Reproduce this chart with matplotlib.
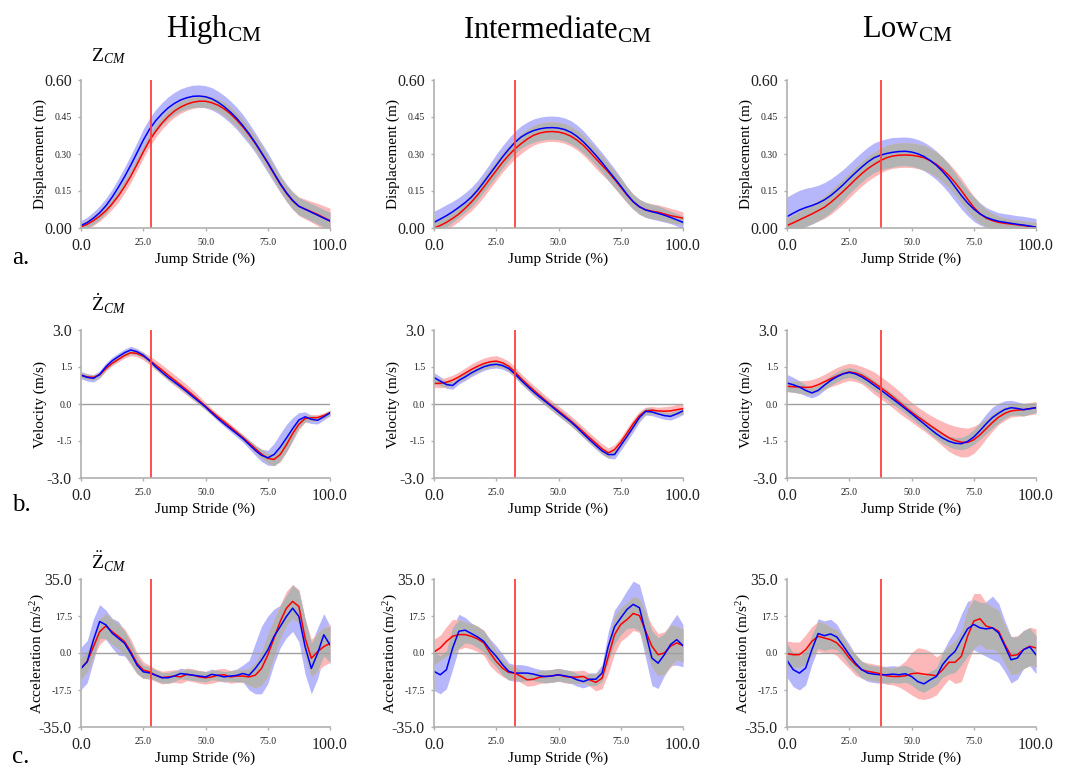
import numpy as np
import matplotlib
matplotlib.use("Agg")
import matplotlib.pyplot as plt

plt.rcParams['font.family'] = ['Liberation Serif', 'DejaVu Serif']
plt.rcParams['mathtext.fontset'] = 'custom'
plt.rcParams['mathtext.rm'] = 'Liberation Serif'
plt.rcParams['mathtext.it'] = 'Liberation Serif:italic'

# x grid (% of jump stride), every 2.5 %
stride = np.arange(0, 100.1, 2.5)

groups = ["High", "Intermediate", "Low"]
event_pct = [28, 32.4, 37.6]

# ---- displacement (m) ----
disp_high_blue = [0.010, 0.022, 0.040, 0.062, 0.090, 0.125, 0.165, 0.208, 0.255, 0.305, 0.356,
                  0.400, 0.435, 0.463, 0.487, 0.505, 0.519, 0.528, 0.534, 0.535, 0.532,
                  0.524, 0.510, 0.492, 0.470, 0.445, 0.415, 0.382, 0.345, 0.305, 0.265,
                  0.222, 0.180, 0.143, 0.112, 0.088, 0.076, 0.064, 0.052, 0.040, 0.028]
disp_high_blue_sd = [0.02, 0.022, 0.025, 0.028, 0.03, 0.032, 0.035, 0.038, 0.04, 0.042, 0.045,
                     0.045, 0.045, 0.045, 0.045, 0.045, 0.045, 0.045, 0.045, 0.045, 0.045,
                     0.045, 0.045, 0.045, 0.045, 0.045, 0.045, 0.042, 0.04, 0.04, 0.04,
                     0.038, 0.035, 0.035, 0.035, 0.035, 0.035, 0.035, 0.035, 0.035, 0.035]
disp_high_red = [0.005, 0.015, 0.030, 0.048, 0.070, 0.098, 0.130, 0.168, 0.210, 0.258, 0.308,
                 0.355, 0.392, 0.425, 0.452, 0.474, 0.490, 0.502, 0.510, 0.514, 0.514,
                 0.508, 0.498, 0.483, 0.463, 0.438, 0.410, 0.378, 0.343, 0.304, 0.263,
                 0.220, 0.178, 0.141, 0.110, 0.088, 0.077, 0.066, 0.055, 0.042, 0.030]
disp_high_red_sd = [0.015, 0.018, 0.02, 0.02, 0.02, 0.022, 0.025, 0.025, 0.025, 0.025, 0.025,
                    0.025, 0.025, 0.025, 0.025, 0.025, 0.025, 0.025, 0.025, 0.025, 0.025,
                    0.025, 0.025, 0.028, 0.03, 0.03, 0.03, 0.03, 0.03, 0.03, 0.03,
                    0.03, 0.03, 0.032, 0.035, 0.038, 0.04, 0.042, 0.045, 0.048, 0.05]

disp_mid_blue = [0.023, 0.036, 0.050, 0.066, 0.084, 0.103, 0.125, 0.153, 0.186, 0.220, 0.254,
                 0.288, 0.319, 0.347, 0.369, 0.384, 0.395, 0.402, 0.406, 0.407, 0.405,
                 0.399, 0.388, 0.371, 0.349, 0.323, 0.295, 0.265, 0.233, 0.202, 0.170,
                 0.136, 0.107, 0.086, 0.073, 0.066, 0.060, 0.052, 0.043, 0.033, 0.023]
disp_mid_blue_sd = [0.045, 0.045, 0.045, 0.042, 0.04, 0.04, 0.04, 0.04, 0.04, 0.042, 0.045,
                    0.045, 0.045, 0.045, 0.045, 0.046, 0.047, 0.047, 0.047, 0.047, 0.047,
                    0.047, 0.047, 0.046, 0.045, 0.042, 0.04, 0.04, 0.04, 0.038, 0.035,
                    0.032, 0.03, 0.03, 0.03, 0.03, 0.03, 0.028, 0.025, 0.025, 0.025]
disp_mid_red = [0.0, 0.010, 0.023, 0.039, 0.057, 0.080, 0.105, 0.134, 0.166, 0.200, 0.233,
                0.266, 0.295, 0.321, 0.342, 0.361, 0.376, 0.385, 0.390, 0.391, 0.389,
                0.383, 0.372, 0.356, 0.335, 0.309, 0.281, 0.254, 0.227, 0.197, 0.166,
                0.134, 0.106, 0.086, 0.074, 0.068, 0.064, 0.057, 0.050, 0.045, 0.040]
disp_mid_red_sd = [0.03, 0.03, 0.03, 0.03, 0.03, 0.03, 0.035, 0.038, 0.04, 0.04, 0.04,
                   0.04, 0.04, 0.04, 0.04, 0.04, 0.04, 0.04, 0.04, 0.04, 0.04,
                   0.04, 0.04, 0.04, 0.04, 0.04, 0.04, 0.038, 0.035, 0.035, 0.035,
                   0.032, 0.03, 0.03, 0.03, 0.03, 0.03, 0.03, 0.03, 0.028, 0.025]

disp_low_blue = [0.046, 0.060, 0.073, 0.083, 0.091, 0.101, 0.114, 0.131, 0.152, 0.175, 0.200,
                 0.224, 0.247, 0.268, 0.285, 0.295, 0.302, 0.307, 0.310, 0.311, 0.308,
                 0.301, 0.290, 0.274, 0.254, 0.229, 0.200, 0.166, 0.132, 0.102, 0.077,
                 0.057, 0.043, 0.034, 0.027, 0.023, 0.019, 0.015, 0.012, 0.008, 0.003]
disp_low_blue_sd = [0.08, 0.08, 0.08, 0.078, 0.075, 0.072, 0.07, 0.068, 0.065, 0.062, 0.06,
                    0.06, 0.06, 0.06, 0.06, 0.06, 0.06, 0.06, 0.058, 0.058, 0.058,
                    0.058, 0.058, 0.058, 0.058, 0.058, 0.058, 0.057, 0.055, 0.052, 0.05,
                    0.045, 0.04, 0.038, 0.035, 0.035, 0.035, 0.035, 0.035, 0.035, 0.035]
disp_low_red = [0.010, 0.021, 0.033, 0.045, 0.057, 0.070, 0.084, 0.103, 0.125, 0.148, 0.172,
                0.197, 0.220, 0.241, 0.258, 0.273, 0.285, 0.292, 0.295, 0.296, 0.295,
                0.291, 0.285, 0.273, 0.258, 0.237, 0.213, 0.184, 0.152, 0.117, 0.084,
                0.058, 0.040, 0.030, 0.023, 0.019, 0.016, 0.013, 0.010, 0.006, 0.003]
disp_low_red_sd = [0.03, 0.032, 0.035, 0.038, 0.04, 0.042, 0.045, 0.048, 0.05, 0.05, 0.05,
                   0.05, 0.05, 0.05, 0.05, 0.05, 0.05, 0.05, 0.05, 0.05, 0.05,
                   0.05, 0.05, 0.05, 0.05, 0.05, 0.05, 0.05, 0.05, 0.048, 0.045,
                   0.04, 0.035, 0.03, 0.025, 0.022, 0.02, 0.02, 0.02, 0.02, 0.02]

# ---- velocity (m/s) ----
vel_high_blue = [1.17, 1.08, 1.04, 1.20, 1.51, 1.75, 1.92, 2.08, 2.19, 2.12, 1.98,
                 1.76, 1.51, 1.29, 1.08, 0.89, 0.70, 0.50, 0.29, 0.09, -0.12,
                 -0.36, -0.59, -0.80, -1.00, -1.20, -1.40, -1.64, -1.88, -2.08, -2.18,
                 -2.05, -1.75, -1.38, -1.00, -0.65, -0.52, -0.62, -0.66, -0.52, -0.36]
vel_high_blue_sd = [0.15, 0.15, 0.15, 0.15, 0.15, 0.15, 0.15, 0.15, 0.15, 0.13, 0.12,
                    0.11, 0.1, 0.1, 0.1, 0.1, 0.1, 0.1, 0.1, 0.1, 0.1,
                    0.1, 0.1, 0.11, 0.12, 0.13, 0.15, 0.17, 0.2, 0.25, 0.3,
                    0.45, 0.55, 0.55, 0.45, 0.3, 0.2, 0.17, 0.15, 0.13, 0.12]
vel_high_red = [1.17, 1.10, 1.08, 1.18, 1.44, 1.65, 1.81, 1.97, 2.08, 2.05, 1.94,
                1.78, 1.58, 1.38, 1.17, 0.97, 0.77, 0.57, 0.36, 0.14, -0.09,
                -0.31, -0.52, -0.72, -0.93, -1.14, -1.36, -1.58, -1.81, -2.03, -2.20,
                -2.25, -2.05, -1.65, -1.20, -0.82, -0.59, -0.56, -0.55, -0.47, -0.36]
vel_high_red_sd = [0.1, 0.1, 0.1, 0.1, 0.1, 0.1, 0.1, 0.11, 0.12, 0.13, 0.15,
                   0.18, 0.2, 0.21, 0.22, 0.22, 0.22, 0.21, 0.2, 0.18, 0.15,
                   0.13, 0.12, 0.12, 0.12, 0.12, 0.12, 0.13, 0.15, 0.18, 0.2,
                   0.25, 0.3, 0.3, 0.3, 0.22, 0.15, 0.13, 0.12, 0.11, 0.1]

vel_mid_blue = [1.07, 0.93, 0.79, 0.75, 0.96, 1.10, 1.26, 1.39, 1.51, 1.58, 1.61,
                1.56, 1.44, 1.22, 0.96, 0.72, 0.49, 0.28, 0.08, -0.12, -0.33,
                -0.53, -0.73, -0.96, -1.21, -1.45, -1.68, -1.90, -2.05, -2.05, -1.68,
                -1.32, -0.94, -0.55, -0.30, -0.32, -0.40, -0.47, -0.50, -0.40, -0.28]
vel_mid_blue_sd = [0.2, 0.18, 0.15, 0.15, 0.15, 0.15, 0.15, 0.15, 0.15, 0.15, 0.15,
                   0.15, 0.15, 0.15, 0.15, 0.15, 0.15, 0.15, 0.15, 0.15, 0.15,
                   0.15, 0.15, 0.15, 0.15, 0.15, 0.15, 0.15, 0.15, 0.18, 0.2,
                   0.2, 0.2, 0.18, 0.15, 0.15, 0.15, 0.15, 0.15, 0.15, 0.15]
vel_mid_red = [0.83, 0.84, 0.88, 0.97, 1.10, 1.25, 1.40, 1.53, 1.64, 1.71, 1.74,
               1.67, 1.53, 1.30, 1.03, 0.79, 0.56, 0.34, 0.12, -0.08, -0.28,
               -0.48, -0.69, -0.91, -1.14, -1.37, -1.59, -1.82, -1.98, -1.85, -1.55,
               -1.18, -0.80, -0.48, -0.28, -0.25, -0.28, -0.29, -0.28, -0.23, -0.19]
vel_mid_red_sd = [0.15, 0.18, 0.2, 0.2, 0.2, 0.21, 0.22, 0.22, 0.22, 0.22, 0.22,
                  0.2, 0.2, 0.2, 0.2, 0.2, 0.2, 0.2, 0.2, 0.2, 0.2,
                  0.2, 0.2, 0.2, 0.2, 0.2, 0.2, 0.2, 0.2, 0.2, 0.2,
                  0.2, 0.2, 0.18, 0.15, 0.15, 0.15, 0.18, 0.2, 0.21, 0.22]

vel_low_blue = [0.85, 0.78, 0.69, 0.55, 0.45, 0.55, 0.76, 0.95, 1.10, 1.22, 1.28,
                1.22, 1.10, 0.94, 0.76, 0.58, 0.39, 0.20, 0.01, -0.19, -0.39,
                -0.60, -0.80, -1.01, -1.21, -1.38, -1.51, -1.59, -1.61, -1.52, -1.34,
                -1.08, -0.80, -0.55, -0.37, -0.22, -0.15, -0.18, -0.23, -0.19, -0.15]
vel_low_blue_sd = [0.35, 0.3, 0.25, 0.22, 0.2, 0.2, 0.2, 0.2, 0.2, 0.2, 0.2,
                   0.2, 0.2, 0.2, 0.2, 0.2, 0.2, 0.2, 0.2, 0.2, 0.2,
                   0.2, 0.2, 0.2, 0.2, 0.21, 0.22, 0.23, 0.25, 0.27, 0.3,
                   0.35, 0.4, 0.42, 0.4, 0.35, 0.3, 0.27, 0.25, 0.22, 0.2]
vel_low_red = [0.72, 0.70, 0.69, 0.67, 0.69, 0.78, 0.90, 1.02, 1.13, 1.23, 1.30,
               1.26, 1.17, 1.02, 0.85, 0.67, 0.49, 0.29, 0.08, -0.13, -0.33,
               -0.52, -0.69, -0.87, -1.04, -1.21, -1.37, -1.48, -1.55, -1.56, -1.45,
               -1.25, -1.00, -0.75, -0.53, -0.38, -0.28, -0.25, -0.23, -0.19, -0.15]
vel_low_red_sd = [0.2, 0.22, 0.25, 0.28, 0.3, 0.3, 0.3, 0.32, 0.35, 0.35, 0.35,
                  0.35, 0.35, 0.4, 0.45, 0.45, 0.45, 0.45, 0.45, 0.42, 0.4,
                  0.4, 0.4, 0.42, 0.45, 0.5, 0.55, 0.58, 0.6, 0.58, 0.55,
                  0.48, 0.4, 0.35, 0.3, 0.28, 0.25, 0.25, 0.25, 0.25, 0.25]

# ---- acceleration (m/s^2) ----
acc_high_blue = [-7.3, -4.1, 6.2, 14.9, 13.3, 9.4, 7.0, 4.6, -0.2, -5.7, -8.9,
                 -9.4, -10.5, -11.7, -11.7, -10.9, -9.7, -10.1, -10.5, -10.9, -11.3,
                 -10.1, -10.6, -11.3, -10.9, -10.6, -9.7, -10.5, -7.3, -3.3, 1.4,
                 7.8, 12.5, 17.3, 21.2, 17.3, 3.0, -7.3, -0.2, 8.6, 3.8]
acc_high_blue_sd = [10, 10, 10, 8, 7, 7, 8, 6, 5, 4, 3,
                    3, 2.5, 2.5, 2.5, 2.5, 2.5, 2.5, 2.5, 2.5, 2.5,
                    2.5, 2.5, 2.5, 2.5, 3, 4, 7, 12, 16, 16,
                    13, 10, 10, 11, 12, 13, 12, 12, 10, 9]
acc_high_red = [-7.3, -4.1, 3.0, 10.1, 12.8, 10.1, 7.8, 5.4, 0.6, -4.9, -8.1,
                -8.9, -10.5, -11.6, -11.3, -10.9, -11.3, -10.1, -10.5, -11.3, -11.7,
                -11.3, -10.5, -10.3, -11.3, -10.9, -10.9, -11.3, -10.5, -7.3, -1.0,
                7.0, 14.9, 21.2, 24.4, 22.0, 7.0, -2.5, 0.6, 3.0, 4.6]
acc_high_red_sd = [5, 5, 5, 6, 6, 6, 6, 6, 6, 5, 4,
                   3, 3, 3, 3, 3, 3, 3, 3, 3, 3,
                   3, 3, 3, 3, 3, 3, 4, 6, 8, 10,
                   9, 8, 8, 8, 8, 9, 9, 9, 9, 9]

acc_mid_blue = [-8.7, -10.3, -7.9, 2.4, 10.3, 10.8, 9.2, 7.6, 5.5, 1.6, -1.6,
                -5.5, -8.7, -9.5, -9.5, -9.5, -10.0, -10.8, -11.1, -10.8, -10.3,
                -10.8, -11.4, -12.7, -13.5, -12.4, -12.4, -9.5, 3.2, 12.4, 16.6,
                20.6, 23.0, 21.4, 9.5, -2.4, -4.8, -0.8, 4.0, 6.3, 3.5]
acc_mid_blue_sd = [9, 9, 9, 10, 8, 6, 5, 5, 5, 5, 5,
                   5, 4, 4, 4, 3.5, 3, 3, 3, 3, 3,
                   3, 3, 3, 3, 3, 3, 4, 7, 8, 8,
                   9, 11, 11, 12, 13, 12, 10, 10, 12, 10]
acc_mid_red = [0.5, 2.4, 5.5, 7.9, 8.7, 8.7, 7.9, 6.7, 4.8, 0.0, -4.0,
               -7.1, -9.2, -9.5, -11.1, -12.7, -12.4, -11.4, -11.1, -10.8, -10.3,
               -11.1, -11.4, -11.4, -11.1, -12.7, -13.9, -11.9, -1.6, 8.7, 13.5,
               15.8, 18.7, 17.7, 10.3, 3.2, -0.8, 0.0, 3.2, 4.8, 3.5]
acc_mid_red_sd = [6, 6, 7, 8, 7, 6, 6, 6, 6, 6, 5,
                  4, 3.5, 3, 3, 3, 3, 3, 3, 3, 3,
                  3, 3, 3, 3, 3, 4, 5, 8, 9, 8,
                  8, 8, 8, 9, 10, 10, 10, 10, 8, 8]

acc_low_blue = [-3.5, -7.9, -9.5, -7.1, 1.6, 9.2, 8.2, 9.0, 7.6, 3.5, -0.8,
                -4.8, -7.9, -9.5, -10.0, -10.3, -10.3, -10.0, -10.3, -9.8, -11.1,
                -13.5, -14.6, -12.7, -11.1, -5.5, -1.9, 0.8, 6.3, 11.4, 13.5,
                11.9, 11.4, 11.9, 9.5, 3.2, -3.2, -2.4, 1.6, 2.9, -0.8]
acc_low_blue_sd = [8, 8, 8, 8, 7, 7, 7, 7, 6, 5, 5,
                   4, 4, 4, 4, 4, 4, 4, 4, 4, 4,
                   4, 4, 4, 4, 6, 8, 10, 12, 13, 12,
                   12, 13, 15, 14, 12, 11, 10, 9, 9, 9]
acc_low_red = [-0.3, -0.8, -0.8, 1.6, 5.5, 7.9, 7.1, 6.3, 4.8, 1.6, -2.4,
               -5.5, -7.9, -8.7, -9.2, -9.8, -10.8, -11.1, -11.1, -10.8, -9.8,
               -9.5, -10.0, -10.3, -10.8, -7.9, -4.4, -4.4, -1.6, 7.9, 15.1,
               16.2, 12.7, 11.9, 10.3, 4.0, -1.3, -0.8, 1.6, 3.2, 2.4]
acc_low_red_sd = [6, 6, 6, 7, 7, 7, 7, 6, 6, 6, 5,
                  5, 4, 4, 4, 4, 4, 4, 5, 7, 10,
                  12, 12, 11, 9, 8, 8, 10, 12, 13, 13,
                  12, 11, 10, 10, 9, 9, 9, 9, 9, 9]

rows = [
    [(disp_high_blue, disp_high_blue_sd, disp_high_red, disp_high_red_sd),
     (disp_mid_blue, disp_mid_blue_sd, disp_mid_red, disp_mid_red_sd),
     (disp_low_blue, disp_low_blue_sd, disp_low_red, disp_low_red_sd)],
    [(vel_high_blue, vel_high_blue_sd, vel_high_red, vel_high_red_sd),
     (vel_mid_blue, vel_mid_blue_sd, vel_mid_red, vel_mid_red_sd),
     (vel_low_blue, vel_low_blue_sd, vel_low_red, vel_low_red_sd)],
    [(acc_high_blue, acc_high_blue_sd, acc_high_red, acc_high_red_sd),
     (acc_mid_blue, acc_mid_blue_sd, acc_mid_red, acc_mid_red_sd),
     (acc_low_blue, acc_low_blue_sd, acc_low_red, acc_low_red_sd)],
]

ylabels = ["Displacement (m)", "Velocity (m/s)", r"Acceleration (m/s$^{2}$)"]
yticks = [[0, 0.15, 0.30, 0.45, 0.60], [-3, -1.5, 0, 1.5, 3], [-35, -17.5, 0, 17.5, 35]]
ytick_labels = [["0.00", "0.15", "0.30", "0.45", "0.60"],
                ["-3.0", "-1.5", "0.0", "1.5", "3.0"],
                ["-35.0", "-17.5", "0.0", "17.5", "35.0"]]
row_names = [r"Z$_{CM}$", r"$\dot{\mathrm{Z}}_{CM}$", r"$\ddot{\mathrm{Z}}_{CM}$"]
letters = ["a.", "b.", "c."]

BLUE_BAND = "#b6b6fb"
RED_BAND = "#fcb8b8"
GRAY_BAND = "#b3b3b3"
SPINE = "#b0b0b0"

W, H = 1070, 773
fig = plt.figure(figsize=(W / 100, H / 100), dpi=100)

col_left = [81, 434, 787]
row_top = [80, 330, 579]
aw, ah = 249, 148
title_x = [214, 557, 907]

for r, panels in enumerate(rows):
    for c, (b, bsd, rd, rsd) in enumerate(panels):
        ax = fig.add_axes([col_left[c] / W, 1 - (row_top[r] + ah) / H, aw / W, ah / H])
        b, bsd, rd, rsd = map(np.asarray, (b, bsd, rd, rsd))
        bl, bu = b - bsd, b + bsd
        rl, ru = rd - rsd, rd + rsd
        ax.fill_between(stride, bl, bu, color=BLUE_BAND, lw=0)
        ax.fill_between(stride, rl, ru, color=RED_BAND, lw=0)
        # overlap of the two bands shown in gray
        lo = np.maximum(bl, rl)
        hi = np.minimum(bu, ru)
        ax.fill_between(stride, lo, hi, where=hi > lo, interpolate=True, color=GRAY_BAND, lw=0)
        if r > 0:
            ax.axhline(0, color="#a0a0a0", lw=1)
        ax.plot(stride, rd, color="#ff0000", lw=1.1)
        ax.plot(stride, b, color="#0000ff", lw=1.1)
        ax.axvline(event_pct[c], color="#ff4040", lw=1.3)

        ax.set_xlim(0, 100)
        ax.set_ylim(yticks[r][0], yticks[r][-1])
        for s in ["top", "right"]:
            ax.spines[s].set_visible(False)
        for s in ["left", "bottom"]:
            ax.spines[s].set_color(SPINE)
            ax.spines[s].set_linewidth(1.2)
        ax.tick_params(colors=SPINE, length=2.5, width=1, labelcolor="#222222")
        ax.tick_params(axis="x", pad=5)
        ax.tick_params(axis="y", pad=4)

        ax.set_xticks([0, 25, 50, 75, 100], ["0.0", "25.0", "50.0", "75.0", "100.0"])
        ax.set_yticks(yticks[r], ytick_labels[r])
        for i, lbl in enumerate(ax.get_xticklabels()):
            lbl.set_fontsize(11.5 if i in (0, 4) else 7)
        for i, lbl in enumerate(ax.get_yticklabels()):
            lbl.set_fontsize(11.5 if i in (0, 4) else 7)

        ax.set_xlabel("Jump Stride (%)", fontsize=11, labelpad=0)
        ax.xaxis.set_label_coords(0.5, -0.165)
        ax.set_ylabel(ylabels[r], fontsize=11)
        ax.yaxis.set_label_coords(-34 / aw, 0.5)

        if r == 0:
            fig.text(title_x[c] / W, 1 - 30 / H,
                     groups[c] + r"$_{\mathrm{CM}}$", fontsize=22,
                     ha="center", va="center")
        if c == 0:
            ypos = [56, 304, 562][r]
            fig.text(91 / W, 1 - ypos / H, row_names[r], fontsize=14,
                     ha="left", va="center")
            fig.text(12 / W, 1 - [258, 505, 757][r] / H, letters[r], fontsize=18,
                     ha="left", va="center")

fig.savefig("out.png", dpi=100)
